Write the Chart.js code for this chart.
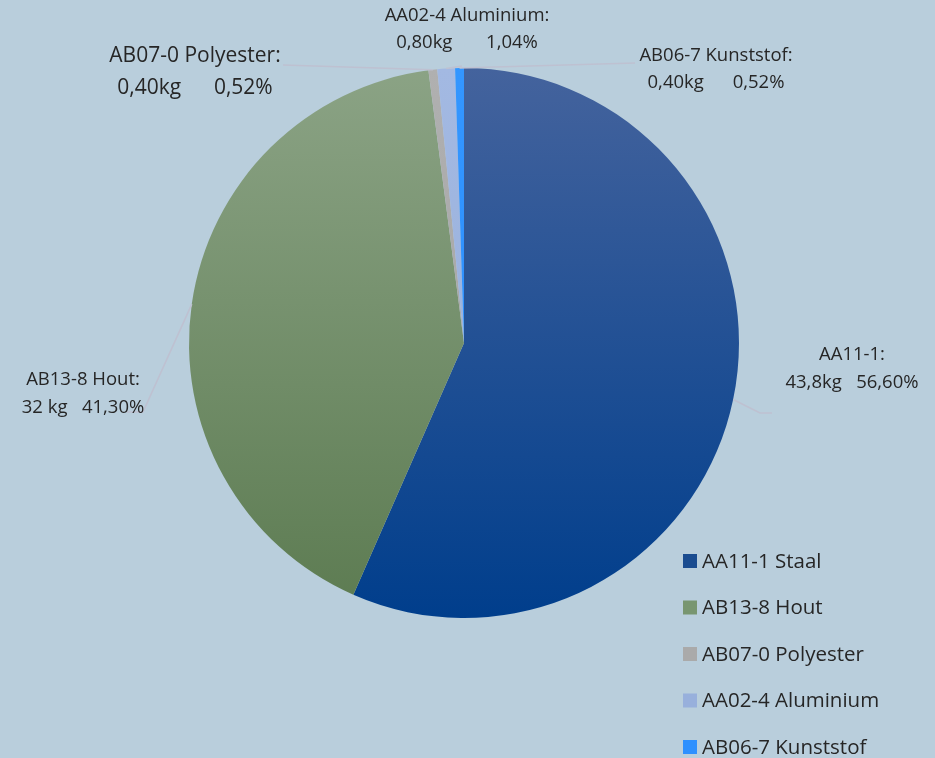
<!DOCTYPE html>
<html><head><meta charset="utf-8">
<script src="https://cdn.jsdelivr.net/npm/chart.js@4/dist/chart.umd.min.js"></script>
<style>
html,body{margin:0;padding:0;background:#B9CEDC;}
#wrap{width:935px;height:758px;position:relative;}
</style></head>
<body><div id="wrap"><canvas id="c" width="935" height="758"></canvas></div>
<script>
// ---- data ----
const categories = ["AA11-1 Staal","AB13-8 Hout","AB07-0 Polyester","AA02-4 Aluminium","AB06-7 Kunststof"];
const labelTitles = ["AA11-1:","AB13-8 Hout:","AB07-0 Polyester:","AA02-4 Aluminium:","AB06-7 Kunststof:"];
const weightsKg = [43.8, 32, 0.40, 0.80, 0.40];
const weightText = ["43,8kg","32 kg","0,40kg","0,80kg","0,40kg"];
const percentText = ["56,60%","41,30%","0,52%","1,04%","0,52%"];

// ---- styles ----
const gradStops = [
  ["#44639D","#003E8C"],
  ["#8BA385","#5C7B51"],
  ["#B0B0B0","#A0A0A0"],
  ["#A3B9E2","#93ACDA"],
  ["#3396FF","#2A8CFF"]
];
const legendSwatch = ["#1A4C90","#789670","#AAAAAA","#98B0DC","#2E90FF"];
const FONT = "'Open Sans', sans-serif";
const TEXT = "#262626";
const LINE = "#BEC1D1";
const labelLayout = [
  {x:852, y:355, size:18.5, lh:28, gap:"   ", leader:[[760,413],[772,413]]},
  {x:83,  y:380, size:18.5, lh:28, gap:"   ", leader:[[143,412],[127,412]]},
  {x:195, y:56,  size:21,   lh:32, gap:"      ", leader:[[283,65]]},
  {x:467, y:16,  size:18.5, lh:27, gap:"       ", leader:[[462,66]]},
  {x:716, y:56,  size:18.5, lh:27, gap:"      ", leader:[[635,63]]}
];

const labelPlugin = {
  id:'labels',
  afterDatasetsDraw(chart){
    const ctx = chart.ctx;
    const meta = chart.getDatasetMeta(0);
    ctx.save();
    meta.data.forEach((arc,i)=>{
      const L = labelLayout[i];
      const p = arc.getProps(['x','y','startAngle','endAngle','outerRadius'],true);
      const mid = (p.startAngle+p.endAngle)/2;
      const sx = p.x + Math.cos(mid)*p.outerRadius;
      const sy = p.y + Math.sin(mid)*p.outerRadius;
      ctx.strokeStyle = LINE; ctx.lineWidth = 1.6;
      ctx.beginPath(); ctx.moveTo(sx,sy);
      L.leader.forEach(pt=>ctx.lineTo(pt[0],pt[1]));
      ctx.stroke();
      ctx.fillStyle = TEXT;
      ctx.textAlign='center'; ctx.textBaseline='middle';
      ctx.font = L.size+"px "+FONT;
      ctx.fillText(labelTitles[i], L.x, L.y);
      ctx.fillText(weightText[i]+L.gap+percentText[i], L.x, L.y+L.lh);
    });
    // legend
    ctx.font = "20.5px "+FONT;
    ctx.textAlign='left'; ctx.textBaseline='middle';
    categories.forEach((c,i)=>{
      const y = 561 + i*46.5;
      ctx.fillStyle = legendSwatch[i];
      ctx.fillRect(683, y-7, 14, 14);
      ctx.fillStyle = TEXT;
      ctx.fillText(c, 702, y+1);
    });
    ctx.restore();
  }
};

function grad(i){
  return (context)=>{
    const chart = context.chart;
    const a = chart.chartArea;
    if(!a) return gradStops[i][0];
    const g = chart.ctx.createLinearGradient(0,a.top,0,a.bottom);
    g.addColorStop(0,gradStops[i][0]);
    g.addColorStop(1,gradStops[i][1]);
    return g;
  };
}

new Chart(document.getElementById('c'),{
  type:'pie',
  data:{labels:categories,datasets:[{data:weightsKg,
    backgroundColor:(ctx)=>grad(ctx.dataIndex)(ctx),
    borderWidth:0}]},
  options:{
    responsive:false, animation:false,
    layout:{padding:{left:189,right:196,top:68,bottom:140}},
    plugins:{legend:{display:false},tooltip:{enabled:false}}
  },
  plugins:[labelPlugin]
});
</script></body></html>
